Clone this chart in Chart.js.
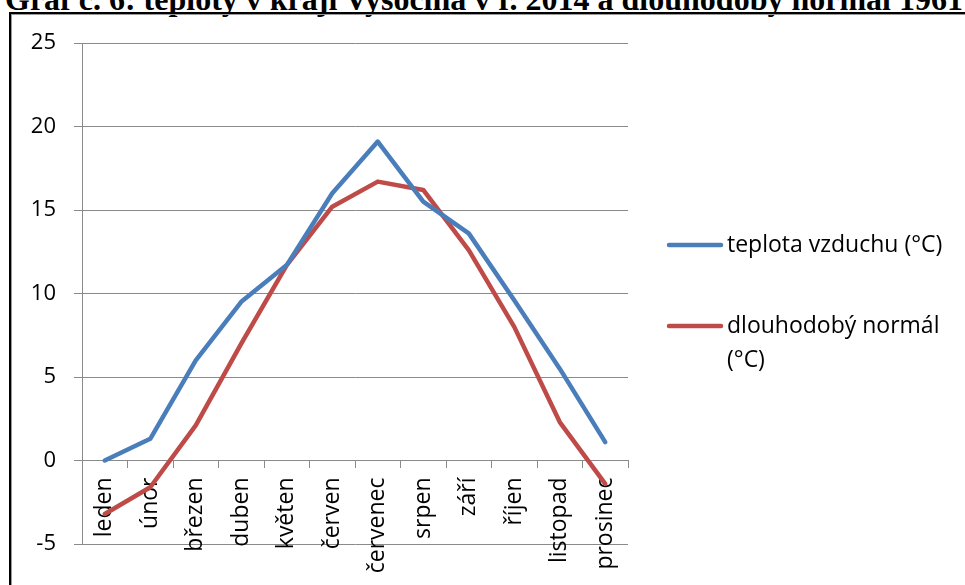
<!DOCTYPE html>
<html lang="cs">
<head>
<meta charset="utf-8">
<script src="https://cdn.jsdelivr.net/npm/chart.js@4/dist/chart.umd.min.js"></script>
<style>
  html, body { margin: 0; padding: 0; background: #fff; }
  body { width: 965px; height: 585px; overflow: hidden; position: relative; }
  #title {
    position: absolute; left: 5px; top: -16.8px; white-space: nowrap;
    font: bold 32px "Liberation Serif", "Times New Roman", serif; line-height: 32px; color: #000;
  }
  #frame {
    position: absolute; left: 9px; top: 12px; width: 1000px; height: 620px;
    border-left: 2px solid #000; border-top: 2px solid #000;
    box-shadow: inset 1px 1px 0 #9a9a9a;
  }
  #chart { position: absolute; left: 0; top: 0; }
</style>
</head>
<body>
<div id="title">Graf č. 6: teploty v kraji Vysočina v r. 2014 a dlouhodobý normál 1961</div>
<div id="frame"></div>
<canvas id="chart" width="965" height="585"></canvas>
<script>
// Data z grafu
const months = ['leden', 'únor', 'březen', 'duben', 'květen', 'červen',
                'červenec', 'srpen', 'září', 'říjen', 'listopad', 'prosinec'];
const airTemp = [0, 1.3, 6, 9.5, 11.7, 16, 19.1, 15.5, 13.6, 9.6, 5.5, 1.1];
const longTermNormal = [-3.2, -1.6, 2.1, 7, 11.7, 15.2, 16.7, 16.2, 12.6, 8, 2.3, -1.4];
const seriesNames = [['teplota vzduchu (°C)'], ['dlouhodobý normál', '(°C)']];
const yMin = -5, yMax = 25, yStep = 5;

const fontFamily = '"Open Sans", "Noto Sans", sans-serif';
const labelFont = { family: fontFamily, size: 23 };
const yFont = { family: fontFamily, size: 22 };

// Legenda vpravo (víceřádkový text)
const sideLegend = {
  id: 'sideLegend',
  afterDraw(chart) {
    const ctx = chart.ctx;
    const rows = [245, 326];
    ctx.save();
    ctx.font = labelFont.size + 'px ' + labelFont.family;
    ctx.textBaseline = 'middle';
    ctx.fillStyle = '#000';
    chart.data.datasets.forEach((ds, i) => {
      const y = rows[i];
      ctx.strokeStyle = ds.borderColor;
      ctx.lineWidth = 4.5;
      ctx.lineCap = 'round';
      ctx.beginPath();
      ctx.moveTo(669, y);
      ctx.lineTo(721, y);
      ctx.stroke();
      seriesNames[i].forEach((line, j) => ctx.fillText(line, 727, y + j * 34));
    });
    ctx.restore();
  }
};

new Chart(document.getElementById('chart'), {
  type: 'line',
  data: {
    labels: months,
    datasets: [
      { label: seriesNames[0].join(' '), data: airTemp, borderColor: '#4a7ebb' },
      { label: seriesNames[1].join(' '), data: longTermNormal, borderColor: '#be4b48' }
    ]
  },
  options: {
    responsive: false,
    animation: false,
    layout: { padding: { left: 0, top: 43, right: 337, bottom: 41 } },
    elements: {
      line: { borderWidth: 4.5, tension: 0, borderJoinStyle: 'round', borderCapStyle: 'round' },
      point: { radius: 0, hoverRadius: 0 }
    },
    plugins: { legend: { display: false }, tooltip: { enabled: false } },
    scales: {
      x: {
        position: { y: 0 },
        offset: true,
        grid: { display: true, drawOnChartArea: false, drawTicks: true, tickLength: 7, color: '#8a8a8a', offset: true },
        border: { color: '#8a8a8a' },
        ticks: { color: '#000', font: labelFont, minRotation: 90, maxRotation: 90, padding: 10, autoSkip: false }
      },
      y: {
        min: yMin, max: yMax,
        afterFit(scale) { scale.width = 82; },
        grid: { color: '#8a8a8a', tickLength: 8 },
        border: { color: '#8a8a8a' },
        ticks: { stepSize: yStep, color: '#000', font: yFont, padding: 18 }
      }
    }
  },
  plugins: [sideLegend]
});
</script>
</body>
</html>
